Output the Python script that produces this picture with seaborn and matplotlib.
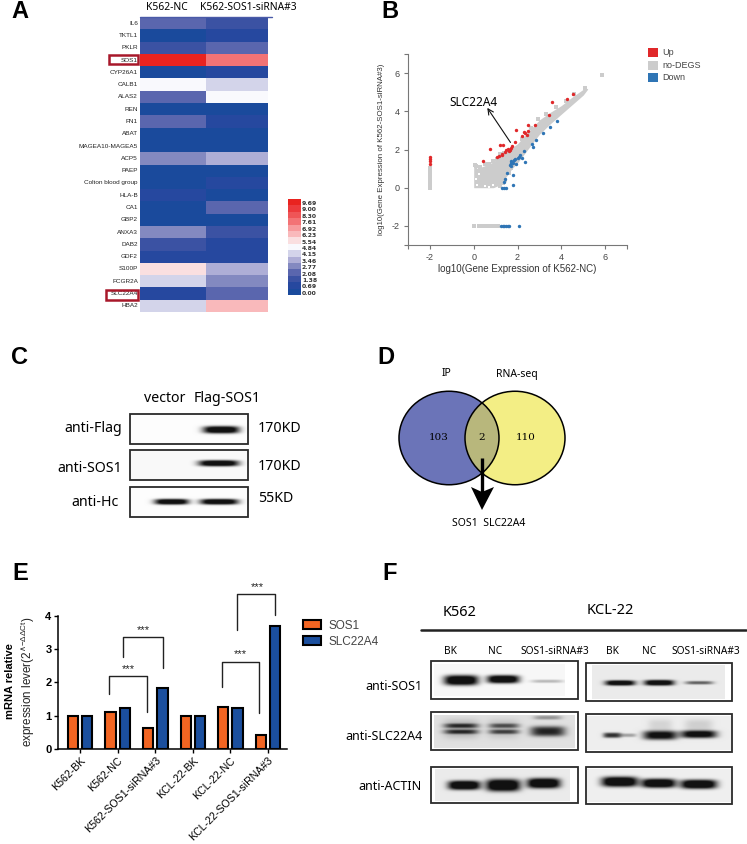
import numpy as np
import pandas as pd
import matplotlib
matplotlib.use("Agg")
import matplotlib.pyplot as plt
from matplotlib.colors import ListedColormap, BoundaryNorm
from matplotlib.patches import Ellipse, Rectangle, Polygon
import seaborn as sns

sns.set_style("white")
plt.rcParams['font.family'] = ['Liberation Sans', 'DejaVu Sans']
plt.rcParams['axes.unicode_minus'] = False
plt.rcParams['text.color'] = 'black'
plt.rcParams['xtick.labelcolor'] = 'black'
plt.rcParams['ytick.labelcolor'] = 'black'

W, H = 747, 844

# panel A
genes = ['IL6', 'TKTL1', 'PKLR', 'SOS1', 'CYP26A1', 'CALB1', 'ALAS2', 'REN', 'FN1', 'ABAT',
         'MAGEA10-MAGEA5', 'ACP5', 'PAEP', 'Colton blood group', 'HLA-B', 'CA1', 'GBP2',
         'ANXA3', 'DAB2', 'GDF2', 'S100P', 'FCGR2A', 'SLC22A4', 'HBA2']
nc_level = [3, 0, 2, 14, 0, 7, 3, 0, 3, 0, 0, 4, 0, 0, 1, 0, 0, 4, 2, 1, 8, 6, 1, 6]
si_level = [2, 1, 3, 11, 1, 6, 7, 0, 1, 0, 0, 5, 0, 1, 0, 3, 0, 2, 1, 1, 5, 4, 3, 9]
level_labels = ['0.00', '0.69', '1.38', '2.08', '2.77', '3.46', '4.15', '4.84',
                '5.54', '6.23', '6.92', '7.61', '8.30', '9.00', '9.69']
level_colors = ['#1a4a9c', '#26489f', '#3b52a3', '#5a66ae', '#8389c0', '#aeaed6', '#d3d4ea',
                '#f9f9fd', '#fadfe0', '#f9b9bb', '#f79a9c', '#f37375', '#ef5557', '#ec3a3c', '#e9231f']

# panel B, values
band_x = [0.0, 0.12, 0.15, 0.5, 0.9, 1.2, 1.5, 1.75, 2.0, 2.5, 3.0, 3.5, 4.0, 4.5, 5.0, 5.2]
band_lo = [0.0, 0.0, 0.0, 0.0, 0.0, 0.15, 0.6, 1.0, 1.3, 2.05, 2.8, 3.35, 3.85, 4.35, 4.85, 5.15]
band_hi = [1.1, 1.1, 1.0, 1.15, 1.35, 1.7, 1.95, 2.1, 2.3, 2.95, 3.55, 3.95, 4.3, 4.75, 5.15, 5.2]
grey_x = [5.87, -2, -2, -2, -2, -2, -2, -2, -2, 0.0, 0.22, 0.3, 0.4, 0.5, 0.6, 0.7, 0.8, 0.9, 1.0, 1.1,
          0.05, 0.12, 0.3, 0.5, 0.72, 0.9, 1.05, 1.22, 1.38, 1.32, 1.45, 1.2, 1.6, 1.72, 2.2, 2.6, 2.95, 3.3, 3.75, 4.2, 4.6, 5.1]
grey_y = [5.92, 0.0, 0.08, 0.3, 0.45, 0.6, 0.75, 0.9, 1.05, -2, -2, -2, -2, -2, -2, -2, -2, -2, -2, -2,
          1.18, 1.15, 1.08, 1.22, 1.25, 1.42, 1.5, 1.78, 1.82, 0.25, 0.42, 0.1, 0.78, 1.05, 2.55, 3.1, 3.6, 3.85, 4.2, 4.55, 4.9, 5.22]
gap_x = [0.14, 0.5, 0.7, 0.12, 0.9, 0.22]
gap_y = [0.12, 0.1, 0.05, 0.45, 0.12, 0.72]
up_x = [-2, -2, -2, -2, 0.41, 0.76, 1.18, 1.3, 1.35, 1.48, 1.55, 1.68, 1.75, 1.9, 1.95, 2.2, 2.28,
        2.35, 2.42, 2.5, 2.5, 2.78, 3.42, 3.58, 4.27, 4.55, 1.05, 1.15, 1.28, 1.43, 1.6, 1.72]
up_y = [1.6, 1.5, 1.42, 1.25, 1.38, 2.02, 2.22, 1.72, 2.24, 1.95, 2.05, 2.0, 2.2, 2.38, 3.0, 2.72,
        2.9, 2.85, 2.78, 3.27, 2.95, 3.27, 3.82, 4.47, 4.62, 4.92, 1.6, 1.68, 1.75, 1.85, 1.92, 2.08]
down_x = [1.3, 1.38, 1.46, 1.43, 1.53, 1.78, 1.8, 1.4, 1.65, 1.7, 1.75, 1.8, 1.85, 1.9, 1.95, 2.0, 2.05, 1.7, 1.72,
          2.1, 2.2, 2.35, 2.3, 2.65, 2.85, 2.7, 3.15, 3.5, 3.8, 1.25, 1.33, 1.4, 1.47, 1.55, 1.62, 2.08]
down_y = [0.0, 0.0, 0.0, 0.47, 0.79, 0.68, 0.15, 0.3, 1.2, 1.28, 1.35, 1.3, 1.45, 1.5, 1.25, 1.55, 1.6, 1.15, 1.4,
          1.7, 1.55, 1.35, 1.9, 2.3, 2.5, 2.15, 2.85, 3.2, 3.5, -2, -2, -2, -2, -2, -2, -2]

# panel D
venn_counts = ['103', '2', '110']

# panel E
samples = ['K562-BK', 'K562-NC', 'K562-SOS1-siRNA#3', 'KCL-22-BK', 'KCL-22-NC', 'KCL-22-SOS1-siRNA#3']
sos1 = [1.0, 1.12, 0.63, 1.0, 1.25, 0.41]
slc22a4 = [1.0, 1.22, 1.84, 1.0, 1.22, 3.7]


fig = plt.figure(figsize=(W / 100, H / 100), dpi=100)


def px_axes(x0, y0, x1, y1, **kw):
    return fig.add_axes([x0 / W, 1 - y1 / H, (x1 - x0) / W, (y1 - y0) / H], **kw)


# overlay in pixel coordinates for labels, boxes and brackets
ov = px_axes(0, 0, W, H)
ov.set_xlim(0, W)
ov.set_ylim(H, 0)
ov.axis('off')
ov.set_zorder(10)


def label(x, y, s, size=10, ha='center', family='Noto Sans', **kw):
    ov.text(x, y, s, fontsize=size, ha=ha, va='center', family=family, **kw)


for s, x, y in [('A', 20, 11), ('B', 390, 11), ('C', 20, 357), ('D', 386, 358), ('E', 20, 574), ('F', 390, 574)]:
    label(x, y, s, size=17, family='Liberation Sans', fontweight='bold')

# A heatmap
cmap = ListedColormap(level_colors)
norm = BoundaryNorm(np.arange(-0.5, 15.5), 15)
ax = px_axes(140, 17, 268, 312)
df_heat = pd.DataFrame({'K562-NC': nc_level, 'K562-SOS1-siRNA#3': si_level}, index=genes)
sns.heatmap(df_heat, ax=ax, cmap=cmap, norm=norm, cbar=False, xticklabels=False, yticklabels=True)
ax.set_xlim(0, 1.94)
ax.set_ylabel('')
ax.tick_params(axis='y', length=0, pad=1.5, labelsize=4.6, labelcolor='#222222', rotation=0)
ov.plot([140, 272], [16.5, 16.5], color='#4a5aa8', lw=1)
label(167, 7, 'K562-NC', size=7.4)
label(248, 7, 'K562-SOS1-siRNA#3', size=7.4)
ov.add_patch(Rectangle((109, 54.5), 29, 9.5, fill=False, ec='#a8182a', lw=1.8))
ov.add_patch(Rectangle((105.5, 289.5), 32.5, 10.5, fill=False, ec='#a8182a', lw=1.8))

cb = px_axes(288, 199, 301, 295)
df_bar = pd.DataFrame(np.arange(14, -1, -1).reshape(-1, 1))
sns.heatmap(df_bar, ax=cb, cmap=cmap, norm=norm, cbar=False, xticklabels=False, yticklabels=False)
for i, s in enumerate(level_labels[::-1]):
    label(302, 203.5 + i * 6.42, s, size=4.4, ha='left', family='DejaVu Sans', fontweight='bold', color='#333333')

# B scatter
ax = px_axes(408, 54, 627, 245)
ax.fill_between(band_x, band_lo, band_hi, color='#cccccc', lw=0)
df_grey = pd.DataFrame({'x': grey_x, 'y': grey_y})
df_gap = pd.DataFrame({'x': gap_x, 'y': gap_y})
df_up = pd.DataFrame({'x': up_x, 'y': up_y})
df_down = pd.DataFrame({'x': down_x, 'y': down_y})
sns.scatterplot(data=df_grey, x='x', y='y', ax=ax, color='#cccccc', s=6, marker='s', lw=0)
sns.scatterplot(data=df_gap, x='x', y='y', ax=ax, color='white', s=1.5, marker='s', lw=0)
sns.scatterplot(data=df_up, x='x', y='y', ax=ax, color='#e0282a', s=6, lw=0)
sns.scatterplot(data=df_down, x='x', y='y', ax=ax, color='#2f75b5', s=6, lw=0)
ax.set_xlim(-3, 7)
ax.set_ylim(-3, 7)
ax.set_xticks([-2, 0, 2, 4, 6])
ax.set_yticks([-2, 0, 2, 4, 6])
ax.set_xticks([-3, 7], minor=True)
ax.set_yticks([-3, 7], minor=True)
ax.tick_params(which='both', bottom=True, left=True, length=3, width=0.8, color='#777777',
               labelsize=6.5, labelcolor='#444444', pad=3)
ax.set_xlabel('log10(Gene Expression of K562-NC)', fontsize=7, color='#333333', labelpad=1)
ax.set_ylabel('log10(Gene Expression of K562-SOS1-siRNA#3)', fontsize=5.7, color='#333333', labelpad=5)
sns.despine(ax=ax)
for sp in ['left', 'bottom']:
    ax.spines[sp].set_color('#777777')
ax.annotate('SLC22A4', xy=(0.55, 4.3), xytext=(0.0, 4.48), fontsize=8.5, ha='center', va='center',
            family='Noto Sans')
ax.annotate('', xy=(0.55, 4.3), xytext=(1.75, 2.25), arrowprops=dict(arrowstyle='->', lw=0.8, color='#111111'))
for name, col, y in [('Up', '#e0282a', 52.5), ('no-DEGS', '#cccccc', 65), ('Down', '#2f75b5', 77.5)]:
    ov.add_patch(Rectangle((648, y - 4.5), 10, 9, color=col, lw=0))
    label(662, y, name, size=6.5, ha='left', family='Liberation Sans', color='#444444')


def blot(box, img, bands, bg=0.97):
    # box is the frame, img the exposed film region inside it
    x0, y0, x1, y1 = box
    ov.add_patch(Rectangle((x0, y0), x1 - x0, y1 - y0, fill=False, ec='#2a2a2a', lw=1.3, zorder=3))
    ix0, iy0, ix1, iy1 = img
    xx, yy = np.meshgrid(np.arange(ix0, ix1, 0.5), np.arange(iy0, iy1, 0.5))
    im = np.full(xx.shape, float(bg))
    for cx, cy, hw, hh, dark in bands:
        im -= dark * np.exp(-np.abs((xx - cx) / hw) ** 4 - np.abs((yy - cy) / hh) ** 3)
    ov.imshow(np.clip(im, 0.07, 1), extent=(ix0, ix1, iy1, iy0), cmap='gray', vmin=0, vmax=1,
              aspect='auto', interpolation='bilinear', zorder=2)


# C blots
blot((129.5, 414, 248, 444), (130, 415, 247, 443), [(221, 429.5, 18, 3.6, 1.2)], bg=0.99)
blot((129.5, 449.5, 248, 480), (130, 451, 247, 479), [(218.5, 463, 20, 3.0, 1.2)], bg=0.98)
blot((129.5, 487, 248, 516.5), (130, 488, 247, 516), [(171.5, 501.5, 17, 2.8, 1.2), (219, 501.5, 19, 2.8, 1.2)], bg=0.99)
label(165, 399, 'vector', size=10.2)
label(227, 399, 'Flag-SOS1', size=10.2)
label(122, 429, 'anti-Flag', size=10.2, ha='right')
label(122, 468, 'anti-SOS1', size=10.2, ha='right')
label(119, 502, 'anti-Hc', size=10.2, ha='right')
label(258, 429, '170KD', size=10.2, ha='left')
label(258, 466, '170KD', size=10.2, ha='left')
label(258, 499, '55KD', size=10.2, ha='left')

# D venn
ov.add_patch(Ellipse((449, 438), 100, 93.5, fc='#6b74b8', ec='none', zorder=1))
ov.add_patch(Ellipse((515, 438), 100, 93.5, fc='#f3ee85', ec='none', zorder=1))
clip = Ellipse((449, 438), 100, 93.5, transform=ov.transData)
over = Ellipse((515, 438), 100, 93.5, fc='#b8b77c', ec='none', zorder=2)
ov.add_patch(over)
over.set_clip_path(clip)
ov.add_patch(Ellipse((449, 438), 100, 93.5, fill=False, ec='black', lw=1.1, zorder=3))
ov.add_patch(Ellipse((515, 438), 100, 93.5, fill=False, ec='black', lw=1.1, zorder=3))
for s, x in zip(venn_counts, [439, 482, 526]):
    label(x, 438, s, size=7.5, family='DejaVu Serif', zorder=4)
label(446, 374, 'IP', size=7.5)
label(517, 374, 'RNA-seq', size=7.5)
ov.plot([482, 482], [458, 492], color='black', lw=2.4, zorder=5, solid_capstyle='butt')
ov.add_patch(Polygon([(471, 487), (482, 492), (494, 487), (482, 510)], color='black', lw=0, zorder=5))
label(489, 523, 'SOS1  SLC22A4', size=7.5)

# E bars
ax = px_axes(57.7, 615.7, 286.7, 749)
df_e = pd.DataFrame({'sample': samples * 2, 'value': sos1 + slc22a4,
                     'gene': ['SOS1'] * 6 + ['SLC22A4'] * 6})
sns.barplot(data=df_e, x='sample', y='value', hue='gene', palette=['#f26522', '#1b4f9e'], ax=ax,
            width=0.76, gap=0.28, edgecolor='black', linewidth=1.5, saturation=1)
ax.set_xlim(-0.6, 5.5)
ax.set_ylim(0, 4)
ax.set_yticks([0, 1, 2, 3, 4])
ax.set_xlabel('')
ax.set_ylabel('')
ax.tick_params(axis='both', bottom=True, left=True, length=3, width=1, color='black', pad=1.5)
ax.tick_params(axis='y', labelsize=8)
for t in ax.get_yticklabels():
    t.set_fontweight('bold')
for t in ax.get_xticklabels():
    t.set_rotation(45)
    t.set_ha('right')
    t.set_rotation_mode('anchor')
    t.set_fontsize(7.7)
sns.despine(ax=ax)
for sp in ['left', 'bottom']:
    ax.spines[sp].set_linewidth(1.1)
    ax.spines[sp].set_color('black')
handles, names = ax.get_legend_handles_labels()
ax.legend(handles, names, loc='upper left', bbox_to_anchor=(299 / W, 1 - 616 / H), bbox_transform=fig.transFigure,
          frameon=False, fontsize=8.5, labelcolor='#444444', handlelength=1.6, handleheight=0.75,
          labelspacing=0.35, handletextpad=0.6, borderpad=0.3, borderaxespad=0)
label(10, 681, 'mRNA relative', size=8, family='Liberation Sans', rotation=90, fontweight='bold')
label(28, 682, r'expression lever(2$^{\wedge\mathregular{-\Delta\Delta Ct}}$)', size=8.4,
      family='Liberation Sans', rotation=90, color='#222222')
# significance brackets
for xs, ys, sx, sy in [([109.3, 109.3, 146.7, 146.7], [694, 675.7, 675.7, 712], 128, 669),
                       ([122.7, 122.7, 163.3, 163.3], [657, 636.7, 636.7, 668], 143, 630),
                       ([221.7, 221.7, 259, 259], [686.7, 661.7, 661.7, 713], 240, 654),
                       ([237.3, 237.3, 275.3, 275.3], [630, 593.7, 593.7, 615], 257, 587)]:
    ov.plot(xs, ys, color='#222222', lw=1)
    label(sx, sy, '***', size=8, family='Liberation Sans', color='#222222')

# F blots
label(460, 612, 'K562', size=10.5)
label(610, 611, 'KCL-22', size=10.5)
ov.plot([420.7, 745.7], [630, 630], color='#222222', lw=1.8)
lanes = [(450.7, 651, 'BK'), (494.7, 651, 'NC'), (555, 651, 'SOS1-siRNA#3'),
         (612, 652, 'BK'), (648.7, 652, 'NC'), (706, 652, 'SOS1-siRNA#3')]
for x, y, s in lanes:
    label(x, y, s, size=7.3)
label(422, 686, 'anti-SOS1', size=9, ha='right')
label(423, 737, 'anti-SLC22A4', size=9, ha='right')
label(422, 787, 'anti-ACTIN', size=9, ha='right')

blot((430.7, 661, 578.3, 699), (434, 664, 565, 696),
     [(461, 680, 17, 5, 1.2), (503, 679, 16, 4, 1.2), (547, 681, 16, 1.6, 0.25)], bg=0.97)
blot((430.7, 712.3, 578.3, 750), (434, 715.7, 575, 748),
     [(461, 729, 18, 9, 0.2), (503, 729, 16, 9, 0.15), (461, 726, 17, 2.2, 0.55), (461, 732, 17, 2.2, 0.55),
      (504, 726, 15, 2.2, 0.45), (504, 732, 15, 2.2, 0.5), (547.5, 731.5, 17.5, 5, 0.75), (547.5, 718, 14, 2, 0.3)], bg=0.88)
blot((430.7, 766.7, 578.3, 803), (435, 769, 570, 801),
     [(464, 785, 16, 4.5, 1.2), (503, 785, 17, 6, 1.2), (543.5, 783, 16.5, 5, 1.2)], bg=0.92)
blot((585.7, 662.7, 732.3, 700.7), (592, 665, 725, 699),
     [(620, 682.7, 15, 2.6, 1.1), (659, 682.5, 15, 2.8, 1.1), (699, 682.5, 14, 1.7, 0.55)], bg=0.92)
blot((585.7, 714, 732.3, 751.7), (587, 716, 731, 750),
     [(612, 735, 9, 2.6, 0.75), (628, 735, 8, 1.8, 0.3), (660, 735, 17, 4.5, 0.95), (660, 725, 12, 6, 0.1),
      (698.5, 734, 18, 3.8, 1.0), (698.5, 725, 14, 6, 0.12)], bg=0.93)
blot((585.7, 766.7, 732.3, 804), (587, 769, 731, 802),
     [(619.5, 781.5, 18, 5, 1.2), (658.5, 783, 17, 4.5, 1.2), (698.5, 784, 18, 4.5, 1.2)], bg=0.94)

ov.set_xlim(0, W)
ov.set_ylim(H, 0)
fig.savefig('out.png', dpi=100)
